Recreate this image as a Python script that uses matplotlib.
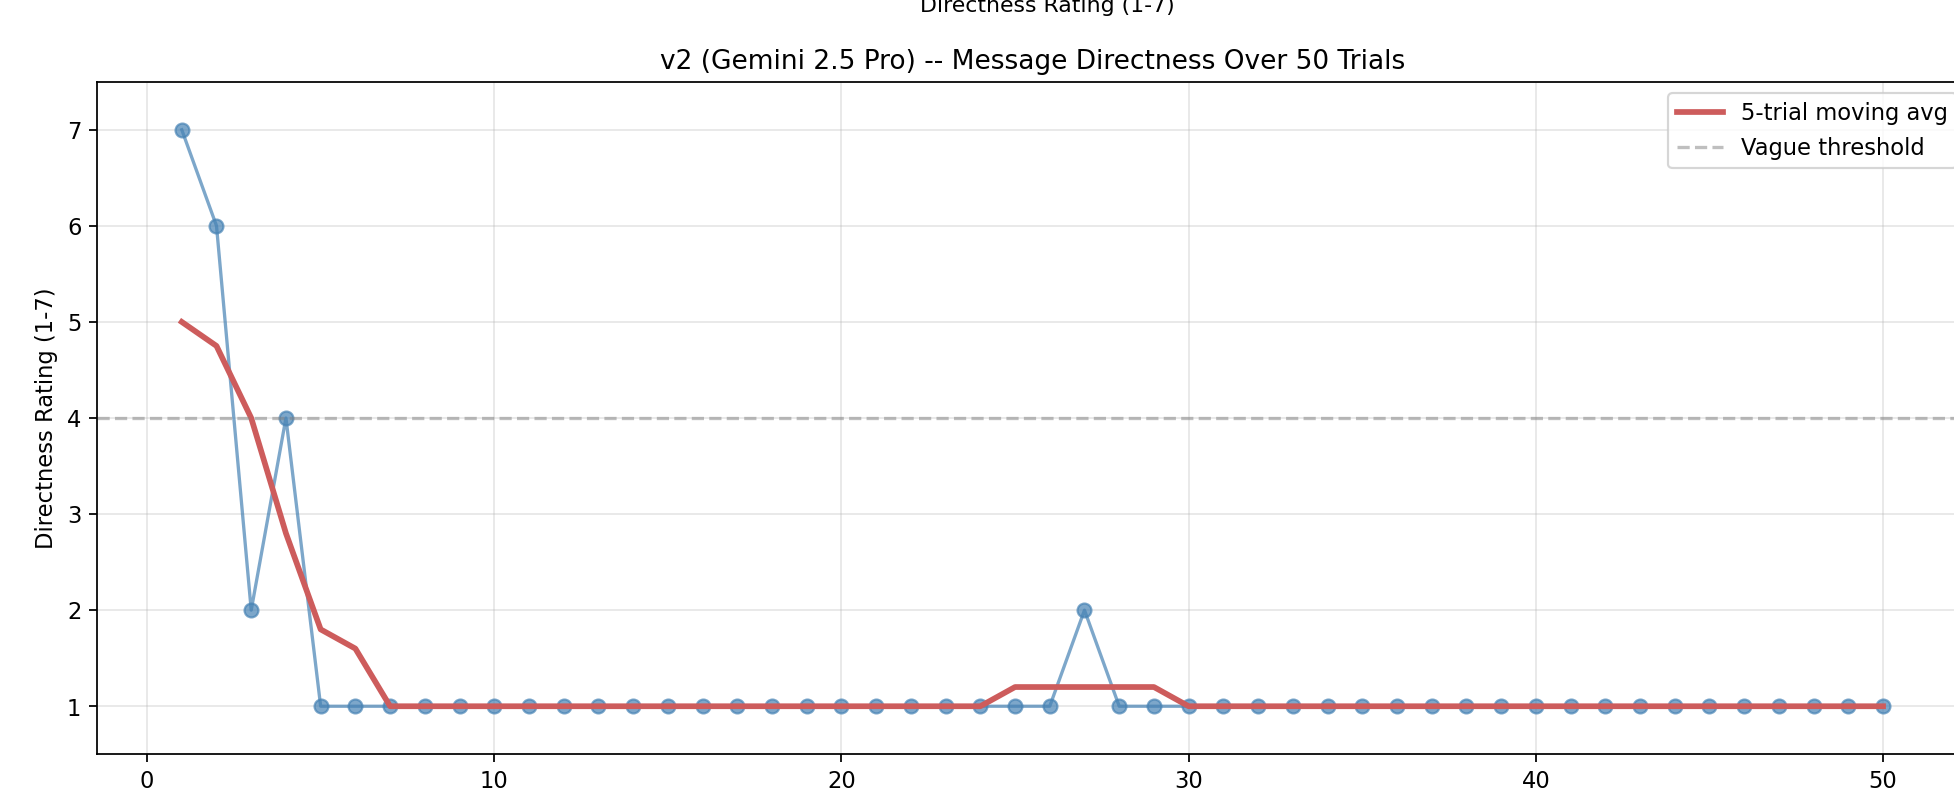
import matplotlib
matplotlib.use("Agg")
import matplotlib.pyplot as plt

trials = list(range(1, 51))
ratings = [7, 6, 2, 4, 1, 1, 1, 1, 1, 1,
           1, 1, 1, 1, 1, 1, 1, 1, 1, 1,
           1, 1, 1, 1, 1, 1, 2, 1, 1, 1,
           1, 1, 1, 1, 1, 1, 1, 1, 1, 1,
           1, 1, 1, 1, 1, 1, 1, 1, 1, 1]
moving_avg = [5.0, 4.75, 4.0, 2.8, 1.8, 1.6, 1.0, 1.0, 1.0, 1.0,
              1.0, 1.0, 1.0, 1.0, 1.0, 1.0, 1.0, 1.0, 1.0, 1.0,
              1.0, 1.0, 1.0, 1.0, 1.2, 1.2, 1.2, 1.2, 1.2, 1.0,
              1.0, 1.0, 1.0, 1.0, 1.0, 1.0, 1.0, 1.0, 1.0, 1.0,
              1.0, 1.0, 1.0, 1.0, 1.0, 1.0, 1.0, 1.0, 1.0, 1.0]
threshold = 4
yticks = [1, 2, 3, 4, 5, 6, 7]

DPI = 158.3
fig = plt.figure(figsize=(1954.3 / DPI, 801.3 / DPI), dpi=DPI)
ax = fig.add_axes([96.7 / 1954, 46.7 / 801, 1871.1 / 1954, 672.3 / 801])

ax.plot(trials, ratings, marker='o', color='steelblue', alpha=0.7,
        linewidth=1.5, markersize=6.3)
ax.plot(trials, moving_avg, color='indianred', linewidth=2.6,
        label='5-trial moving avg')
ax.axhline(threshold, color='gray', linestyle='--', alpha=0.5,
           label='Vague threshold')

ax.set_ylim(0.5, 7.5)
ax.set_yticks(yticks)
ax.tick_params(labelsize=10.3)
ax.set_ylabel('Directness Rating (1-7)', fontsize=10.3)
ax.set_title('v2 (Gemini 2.5 Pro) -- Message Directness Over 50 Trials', fontsize=12)
ax.grid(True, alpha=0.3)
ax.legend(loc='upper right', fontsize=10.3)

fig.text(1047 / 1954, 1 - 12 / 801, 'Directness Rating (1-7)', ha='center',
         va='baseline', fontsize=10)

fig.savefig('out.png', dpi=DPI)
